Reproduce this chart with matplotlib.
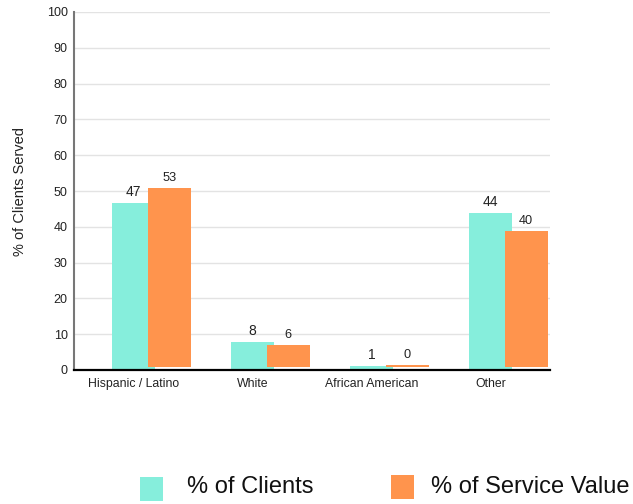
import matplotlib
matplotlib.use("Agg")
import matplotlib.pyplot as plt
from matplotlib.patches import Rectangle

plt.rcParams['font.family'] = ['Liberation Sans', 'DejaVu Sans']

categories = ["Hispanic / Latino", "White", "African American", "Other"]
clients_bars = [46.7, 7.8, 1.2, 43.9]
service_bars = [50.0, 6.2, 0.45, 38.0]
service_base = 0.85
clients_labels = ["47", "8", "1", "44"]
service_labels = ["53", "6", "0", "40"]
yticks = list(range(0, 101, 10))

teal = "#86EEDC"
orange = "#FF944D"

fig = plt.figure(figsize=(6.33, 5.04), dpi=100)
ax = fig.add_axes([74/633, 1-370/504, 476/633, 358/504])

x = list(range(len(categories)))
w = 0.36
xc = [i + 0.5 for i in x]
xs = [i + 0.8 for i in x]
ax.bar(xc, clients_bars, width=w, color=teal, zorder=2)
ax.bar(xs, service_bars, width=w, bottom=service_base, color=orange, zorder=3)

for xi, h, lab in zip(xc, clients_bars, clients_labels):
    ax.annotate(lab, (xi, h), xytext=(0, 3), textcoords="offset points",
                ha="center", va="bottom", fontsize=10, color="#222222")
for xi, h, lab in zip(xs, service_bars, service_labels):
    ax.annotate(lab, (xi, h + service_base), xytext=(0, 3), textcoords="offset points",
                ha="center", va="bottom", fontsize=9.2, color="#222222")

ax.set_xlim(0, len(categories))
ax.set_ylim(0, 100)
ax.set_yticks(yticks)
ax.set_yticklabels([str(t) for t in yticks], fontsize=9, color="#222222")
ax.set_xticks(xc)
ax.set_xticklabels(categories, fontsize=8.8, color="#222222")
ax.tick_params(axis="y", length=0, pad=4.5)
ax.tick_params(axis="x", length=0, pad=5.5)
ax.grid(axis="y", color="#e3e3e3", linewidth=1, zorder=0)
ax.set_axisbelow(True)
for s in ["top", "right"]:
    ax.spines[s].set_visible(False)
ax.spines["left"].set_color("#777777")
ax.spines["left"].set_linewidth(1.5)
ax.spines["bottom"].set_color("black")
ax.spines["bottom"].set_linewidth(1.6)
ax.spines["bottom"].set_zorder(5)
ax.set_ylabel("% of Clients Served", fontsize=10.5, color="#222222", labelpad=14)

# legend
def px(xp, yp):
    return xp / 633, 1 - yp / 504

x0, y0 = px(140, 501)
fig.add_artist(Rectangle((x0, y0), 23/633, 24/504, transform=fig.transFigure,
                         facecolor=teal, edgecolor="none"))
x0, y0 = px(391, 499)
fig.add_artist(Rectangle((x0, y0), 23/633, 24/504, transform=fig.transFigure,
                         facecolor=orange, edgecolor="none"))
tx, ty = px(187, 487)
fig.text(tx, ty, "% of Clients", fontsize=17, va="center", ha="left", color="#111111")
tx, ty = px(431, 487)
fig.text(tx, ty, "% of Service Value", fontsize=17, va="center", ha="left", color="#111111")

fig.savefig("out.png", dpi=100)
